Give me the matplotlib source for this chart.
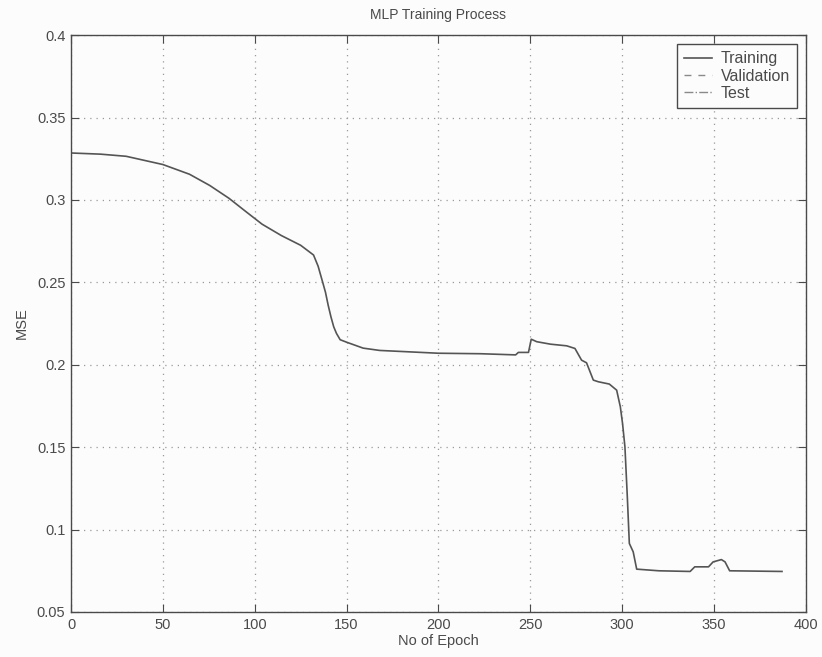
import matplotlib
matplotlib.use("Agg")
import matplotlib.pyplot as plt

# MSE of the training set per epoch
epochs = [0, 16, 30, 50, 64.5, 75.5, 86, 95, 104, 114.5, 125, 132, 134.5,
          137, 138.5, 140, 141.5, 143, 144.5, 146.5, 150, 159, 168, 200, 223,
          242, 243.5, 249, 250.5, 253.5, 261, 269.8, 274.3, 277.9, 280.6,
          284.3, 287, 293, 297, 299, 300.2, 301.5, 302.8, 303.9, 306, 307.9,
          320, 337, 339.5, 347, 349.5, 354, 356, 358.5, 387]
train_mse = [0.3285, 0.3278, 0.3265, 0.3215, 0.3156, 0.3088, 0.301, 0.2931,
             0.2853, 0.2784, 0.2725, 0.2666, 0.2598, 0.2500, 0.2440, 0.2360,
             0.2290, 0.2230, 0.2190, 0.2152, 0.2137, 0.2101, 0.2087, 0.2070,
             0.2067, 0.2060, 0.2075, 0.2075, 0.2155, 0.2140, 0.2125, 0.2115,
             0.2099, 0.2028, 0.2012, 0.1907, 0.1897, 0.1883, 0.1846, 0.1745,
             0.1644, 0.1502, 0.1199, 0.0916, 0.0865, 0.0760, 0.0750, 0.0746,
             0.0774, 0.0774, 0.0804, 0.0818, 0.0804, 0.0750, 0.0746]

x_ticks = [0, 50, 100, 150, 200, 250, 300, 350, 400]
y_ticks = [0.05, 0.1, 0.15, 0.2, 0.25, 0.3, 0.35, 0.4]
y_labels = ["0.05", "0.1", "0.15", "0.2", "0.25", "0.3", "0.35", "0.4"]

plt.rcParams["font.family"] = ["Liberation Sans", "DejaVu Sans"]
plt.rcParams["font.size"] = 10.5

fig = plt.figure(figsize=(8.22, 6.57), dpi=100, facecolor="#fcfcfc")
ax = fig.add_axes([0.0864, 0.0685, 0.894, 0.878])
ax.set_facecolor("#fcfcfc")

ink = "#4a4a4a"
ax.plot(epochs, train_mse, "-", color="#555555", lw=1.2, label="Training")
# validation / test curves are not visible in the scan, only in the legend
ax.plot([], [], "--", color="#8a8a8a", lw=1.0, dashes=(5, 5), label="Validation")
ax.plot([], [], "-.", color="#8a8a8a", lw=1.0, label="Test")

ax.set_xlim(0, 400)
ax.set_ylim(0.05, 0.4)
ax.set_xticks(x_ticks)
ax.set_yticks(y_ticks)
ax.set_yticklabels(y_labels)
ax.grid(True, linestyle=(0, (1, 4)), color="#9a9a9a", lw=0.9)
ax.tick_params(direction="in", length=6, color=ink, labelcolor=ink, top=True, right=True,
               labeltop=False, labelright=False, pad=4)
for s in ax.spines.values():
    s.set_color(ink)
    s.set_linewidth(1.0)

ax.set_title("MLP Training Process", color=ink, fontsize=10, pad=11.5)
ax.set_xlabel("No of Epoch", color=ink, labelpad=2)
ax.set_ylabel("MSE", color=ink, labelpad=6)

leg = ax.legend(loc="upper right", fancybox=False, framealpha=1, edgecolor=ink,
                fontsize=11.5, handlelength=1.75, borderaxespad=0.55,
                labelspacing=0.15, borderpad=0.45, handletextpad=0.55)
leg.get_frame().set_facecolor("#fcfcfc")
for t in leg.get_texts():
    t.set_color(ink)

fig.savefig("out.png", dpi=100, facecolor=fig.get_facecolor())
